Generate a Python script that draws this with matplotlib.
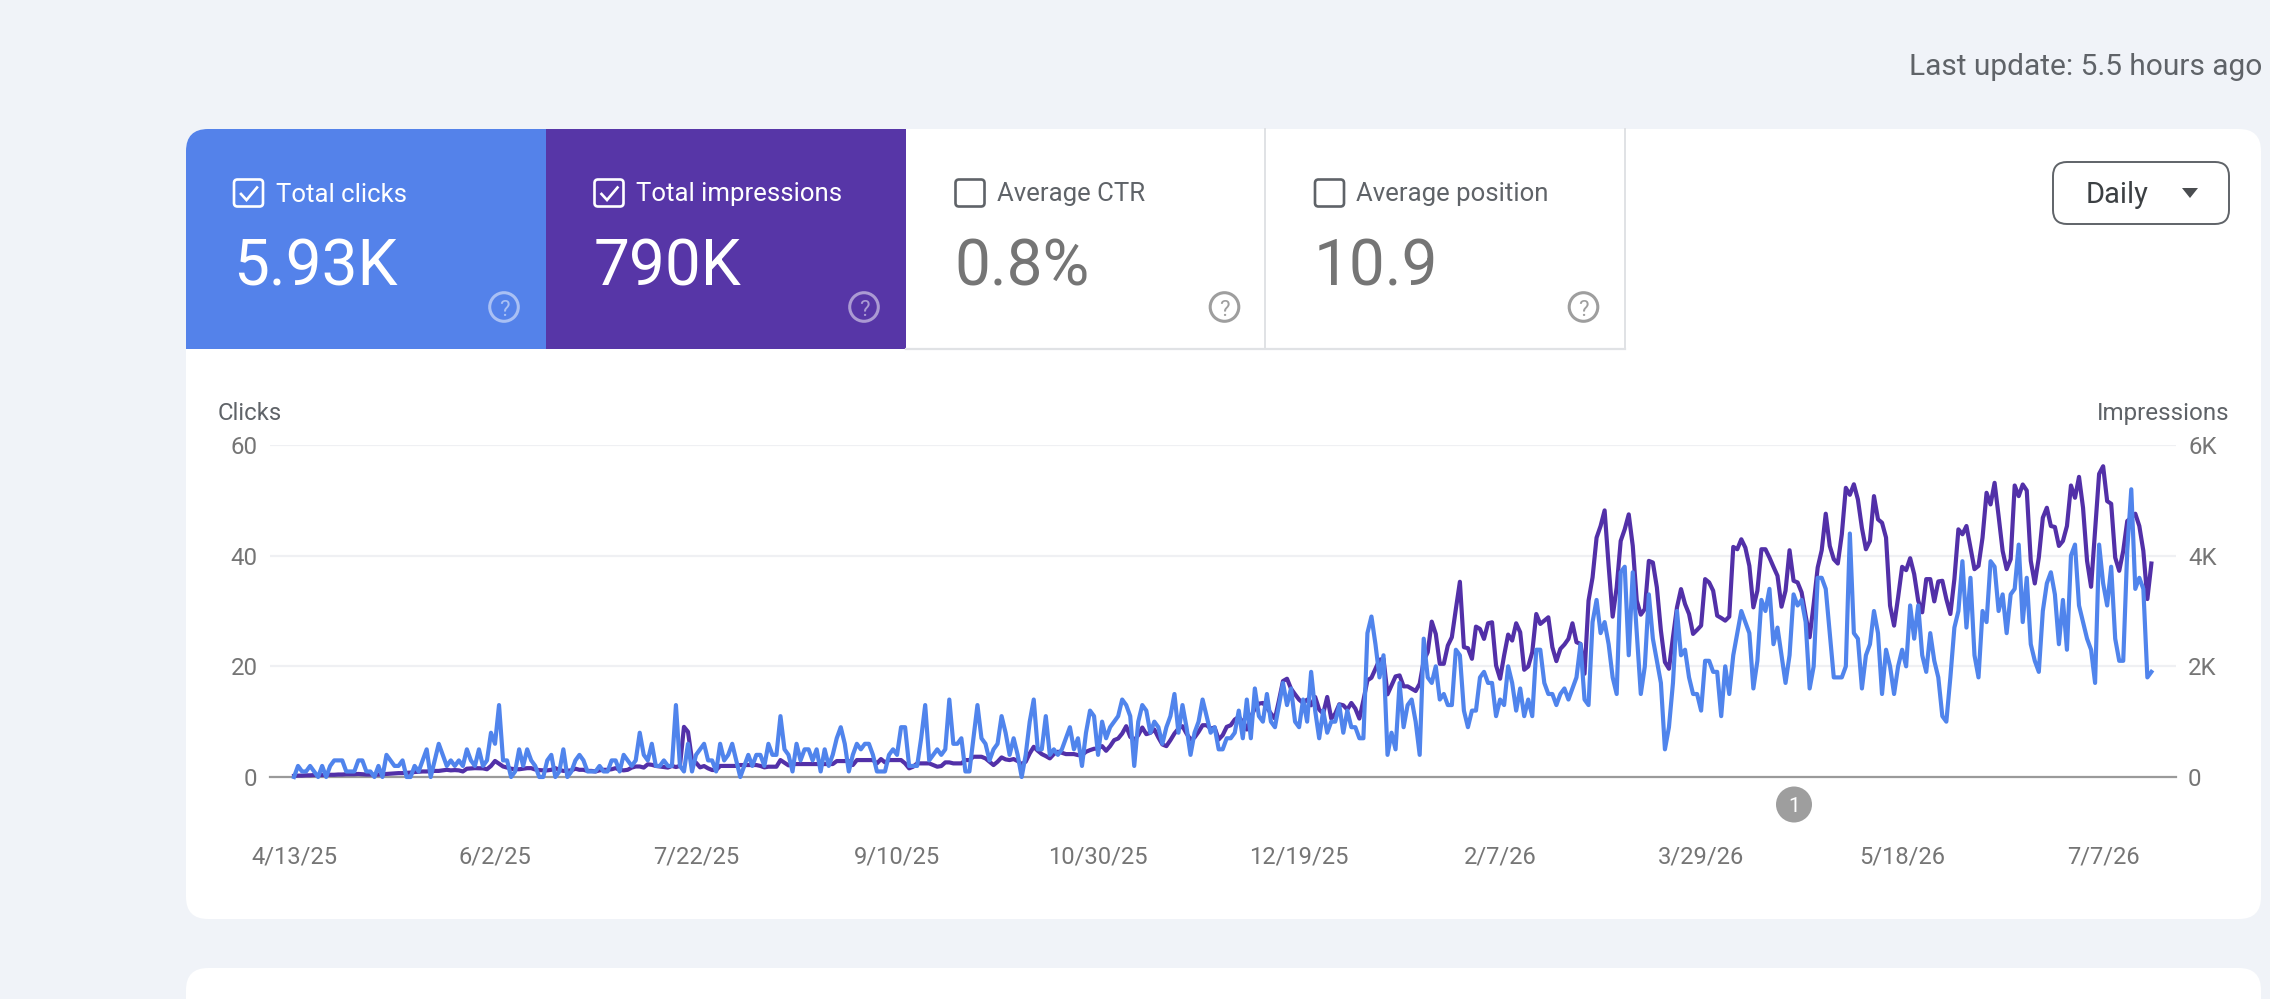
import numpy as np
import matplotlib
matplotlib.use("Agg")
import matplotlib.pyplot as plt
from matplotlib.patches import Circle, FancyBboxPatch, Polygon, Rectangle

plt.rcParams["font.family"] = ["Roboto", "DejaVu Sans"]

W, H = 2270, 999

# daily values, 4/13/25 onwards
clicks = [
    0, 2, 1, 1, 2, 1, 0, 2, 0, 2, 3, 3, 3, 1, 1, 1, 3, 3, 1, 1,
    0, 2, 0, 4, 3, 2, 2, 3, 0, 0, 2, 1, 3, 5, 0, 3, 6, 4, 2, 3,
    2, 3, 2, 5, 3, 2, 5, 2, 3, 8, 6, 13, 3, 3, 0, 1, 5, 2, 5, 3,
    2, 0, 0, 3, 4, 0, 1, 5, 0, 1, 3, 4, 3, 1, 1, 1, 2, 1, 1, 3,
    3, 1, 4, 3, 2, 3, 8, 4, 3, 6, 2, 2, 3, 2, 2, 13, 2, 1, 6, 1,
    4, 5, 6, 3, 3, 1, 6, 3, 4, 6, 3, 0, 2, 4, 2, 4, 4, 2, 6, 4,
    4, 11, 5, 4, 1, 6, 3, 5, 5, 3, 5, 1, 5, 2, 4, 7, 9, 6, 1, 4,
    6, 5, 6, 6, 4, 1, 1, 1, 4, 5, 4, 9, 9, 2, 2, 2, 7, 13, 3, 4,
    5, 4, 5, 14, 6, 6, 7, 1, 1, 7, 13, 7, 6, 3, 5, 6, 11, 8, 4, 7,
    4, 0, 4, 10, 14, 5, 5, 11, 4, 5, 4, 5, 7, 9, 5, 7, 2, 8, 12, 11,
    4, 10, 7, 9, 10, 11, 14, 13, 11, 2, 10, 13, 12, 8, 10, 9, 6, 9, 11, 15,
    8, 13, 9, 4, 8, 10, 14, 11, 8, 9, 5, 5, 7, 7, 8, 12, 7, 14, 7, 16,
    11, 10, 15, 10, 9, 13, 17, 13, 16, 10, 9, 14, 10, 19, 12, 7, 12, 8, 10, 10,
    13, 8, 12, 9, 9, 7, 7, 26, 29, 24, 18, 22, 4, 8, 5, 17, 9, 13, 14, 10,
    4, 25, 18, 17, 20, 14, 15, 13, 13, 23, 22, 12, 9, 12, 12, 18, 19, 17, 17, 11,
    14, 13, 20, 17, 12, 16, 11, 14, 11, 23, 23, 17, 15, 15, 13, 15, 16, 14, 16, 18,
    24, 14, 13, 28, 32, 26, 28, 24, 18, 15, 37, 38, 22, 37, 26, 15, 20, 33, 25, 21,
    17, 5, 9, 17, 30, 22, 23, 18, 15, 15, 12, 21, 21, 19, 19, 11, 20, 15, 22, 26,
    30, 28, 26, 16, 21, 32, 30, 34, 24, 27, 22, 17, 22, 33, 31, 32, 28, 16, 20, 36,
    36, 34, 26, 18, 18, 18, 20, 44, 26, 25, 16, 22, 24, 30, 26, 15, 23, 20, 15, 20,
    23, 20, 31, 25, 31, 22, 19, 26, 21, 18, 11, 10, 18, 27, 30, 39, 27, 36, 22, 18,
    30, 28, 39, 38, 30, 33, 26, 33, 34, 42, 28, 36, 24, 21, 19, 30, 35, 37, 33, 24,
    32, 23, 40, 42, 31, 28, 25, 23, 17, 42, 35, 31, 38, 25, 21, 21, 41, 52, 34, 36,
    34, 18, 19,
]
impressions = [
    20, 25, 25, 30, 30, 35, 35, 35, 40, 40, 40, 45, 45, 50, 50, 50, 55, 50, 45, 45,
    40, 45, 50, 55, 60, 65, 70, 70, 75, 80, 90, 95, 100, 100, 105, 110, 110, 120, 130, 120,
    125, 120, 100, 150, 156, 160, 158, 156, 140, 200, 290, 240, 190, 170, 150, 140, 140, 150, 160, 160,
    135, 125, 120, 120, 130, 160, 130, 110, 115, 120, 150, 130, 130, 110, 110, 100, 120, 130, 130, 140,
    160, 130, 120, 130, 170, 190, 190, 170, 230, 220, 200, 190, 180, 170, 200, 180, 200, 906, 816, 306,
    258, 174, 198, 156, 126, 126, 200, 200, 200, 200, 200, 216, 216, 216, 216, 216, 200, 174, 186, 186,
    186, 306, 258, 210, 234, 234, 234, 234, 234, 234, 234, 234, 234, 234, 234, 288, 288, 288, 288, 216,
    306, 306, 306, 306, 306, 246, 324, 264, 306, 306, 306, 306, 246, 156, 186, 246, 246, 246, 246, 216,
    186, 198, 264, 264, 246, 246, 246, 306, 306, 366, 366, 366, 336, 276, 216, 276, 354, 318, 306, 324,
    288, 234, 276, 426, 546, 474, 414, 378, 336, 414, 456, 438, 414, 414, 414, 396, 396, 456, 486, 510,
    516, 558, 474, 558, 666, 696, 786, 918, 726, 666, 756, 894, 774, 798, 858, 714, 588, 558, 666, 786,
    876, 918, 786, 678, 714, 816, 936, 936, 876, 894, 678, 756, 906, 936, 1038, 1086, 996, 858, 1086, 1236,
    1326, 1338, 1254, 1146, 1056, 1386, 1734, 1776, 1596, 1494, 1398, 1338, 1398, 1296, 1446, 1218, 1146, 1446, 1056, 1146,
    1314, 1296, 1218, 1338, 1236, 1056, 1386, 1746, 1794, 1956, 2118, 2136, 1494, 1656, 1818, 1836, 1638, 1638, 1596, 1554,
    1686, 2100, 2256, 2808, 2586, 2046, 2046, 2376, 2526, 3036, 3528, 2346, 2328, 2136, 2718, 2676, 2496, 2778, 2796, 2016,
    1776, 2196, 2574, 2466, 2778, 2616, 1938, 1998, 2256, 2946, 2766, 2826, 2886, 2346, 2094, 2316, 2394, 2496, 2778, 2436,
    2406, 1866, 3186, 3606, 4326, 4536, 4818, 3816, 2898, 3426, 4266, 4476, 4746, 4176, 3186, 2934, 3036, 3906, 3876, 3426,
    2646, 2076, 1956, 2526, 3066, 3396, 3126, 2946, 2586, 2658, 2736, 3576, 3516, 3366, 2916, 2874, 2826, 2898, 4158, 4116,
    4296, 4146, 3816, 3066, 3366, 4116, 4116, 3966, 3798, 3636, 3078, 3366, 4098, 3546, 3516, 3336, 2916, 2526, 3126, 3786,
    4098, 4758, 4176, 3936, 3858, 4386, 5226, 5100, 5290, 5016, 4500, 4116, 4266, 5076, 4656, 4596, 4326, 3096, 2736, 3246,
    3798, 3738, 3954, 3666, 3186, 2976, 3576, 3576, 3174, 3534, 3546, 3216, 2946, 3576, 4476, 4386, 4536, 4146, 3756, 3816,
    4326, 5136, 4926, 5316, 4716, 4086, 3756, 3936, 5268, 5076, 5286, 5178, 3906, 3498, 3966, 4686, 4866, 4536, 4518, 4176,
    4266, 4536, 5268, 5046, 5424, 4866, 3906, 3438, 4446, 5478, 5616, 4986, 4938, 3966, 3726, 4086, 4626, 4686, 4758, 4536,
    4086, 3216, 3858,
]

date_labels = ["4/13/25", "6/2/25", "7/22/25", "9/10/25", "10/30/25",
               "12/19/25", "2/7/26", "3/29/26", "5/18/26", "7/7/26"]
clicks_ticks = [0, 20, 40, 60]
clicks_labels = ["0", "20", "40", "60"]
impr_ticks = [0, 2000, 4000, 6000]
impr_labels = ["0", "2K", "4K", "6K"]

tile_names = ["Total clicks", "Total impressions", "Average CTR", "Average position"]
tile_values = ["5.93K", "790K", "0.8%", "10.9"]

BG = "#f0f3f8"
BLUE = "#5482ea"
PURPLE = "#5736a7"
LINE_BLUE = "#5084ec"
LINE_PURPLE = "#5230a8"
GREY_TXT = "#757575"
DARK_TXT = "#5f6368"

fig = plt.figure(figsize=(W / 100, H / 100), dpi=100, facecolor=BG)

# page layer in pixel coordinates
page = fig.add_axes([0, 0, 1, 1])
page.set_xlim(0, W)
page.set_ylim(H, 0)
page.axis("off")


def round_box(x0, y0, x1, y1, r, **kw):
    box = FancyBboxPatch((x0 + r, y0 + r), x1 - x0 - 2 * r, y1 - y0 - 2 * r,
                         boxstyle=f"round,pad={r},rounding_size={r}", **kw)
    page.add_patch(box)


round_box(186, 129, 2261, 919, 22, fc="white", ec="none")
round_box(186, 968, 2261, 1040, 22, fc="white", ec="none")

# coloured tiles, first one follows the card's rounded corner
round_box(186, 129, 300, 300, 22, fc=BLUE, ec="none")
page.add_patch(Rectangle((186, 200), 360, 149, fc=BLUE, ec="none"))
page.add_patch(Rectangle((230, 129), 316, 100, fc=BLUE, ec="none"))
page.add_patch(Rectangle((546, 129), 360, 220, fc=PURPLE, ec="none"))

# borders of the unselected tiles
page.plot([1264.5, 1264.5], [129, 348], color="#e0e2e5", lw=1.4)
page.plot([1624.5, 1624.5], [129, 349], color="#e0e2e5", lw=1.4)
page.plot([906, 1625], [348.5, 348.5], color="#e0e2e5", lw=1.6)

tile_x = [234, 594.5, 955.5, 1315]
help_x = [504, 864, 1224.5, 1583.5]
for i, name in enumerate(tile_names):
    sel = i < 2
    x = tile_x[i]
    box_col = "white" if sel else DARK_TXT
    round_box(x, 179.5, x + 29, 206.5, 3.5, fc="none", ec=box_col, lw=1.9)
    if sel:
        page.plot([x + 7, x + 12.5, x + 23], [194, 200, 187.5],
                  color="white", lw=1.9, solid_joinstyle="miter")
    page.text(x + 41.5, 192, name, fontsize=18.5, va="center_baseline", ha="left",
              color="white" if sel else DARK_TXT)
    page.text(x - 1, 285, tile_values[i], fontsize=46, va="baseline", ha="left",
              color="white" if sel else GREY_TXT)
    help_col = (1, 1, 1, 0.5) if sel else "#9e9e9e"
    page.add_patch(Circle((help_x[i], 307), 14.3, fc="none", ec=help_col, lw=2.2))
    page.text(help_x[i], 307.5, "?", fontsize=16, ha="center", va="center_baseline",
              color=help_col)

page.text(2262, 64, "Last update: 5.5 hours ago", fontsize=21.5, ha="right",
          va="center_baseline", color=DARK_TXT)

# period selector
round_box(2053, 162, 2229, 224, 14, fc="white", ec=DARK_TXT, lw=1.4)
page.text(2086, 192, "Daily", fontsize=21, ha="left", va="center_baseline", color="#3c4043")
page.add_patch(Polygon([[2182, 188], [2198, 188], [2190, 198]], fc="#4a4d50", ec="none"))

page.text(217.5, 411, "Clicks", fontsize=17.2, ha="left", va="center_baseline", color=DARK_TXT)
page.text(2229.5, 411, "Impressions", fontsize=17.4, ha="right", va="center_baseline", color=DARK_TXT)

# annotation bubble under the axis
page.add_patch(Circle((1794, 804.5), 18, fc="#9e9e9e", ec="none"))
page.text(1794, 804.5, "1", fontsize=15, color="white", ha="center", va="center_baseline")

# the chart: left axis clicks, right axis impressions
days = np.arange(len(clicks))
left, right, top, bottom = 270, 2175.5, 445, 777
ax = fig.add_axes([left / W, 1 - bottom / H, (right - left) / W, (bottom - top) / H])
ax2 = ax.twinx()
ax.set_zorder(ax2.get_zorder() + 1)
ax.patch.set_visible(False)
ax2.patch.set_visible(False)

ax.set_xlim(-5.97, 468)
ax.set_ylim(0, 60)
ax2.set_ylim(0, 6000)

for v in impr_ticks[1:]:
    ax2.axhline(v, color="#eff0f3", lw=1.6, zorder=1)
ax2.axhline(0, color="#9a9a9a", lw=1.6, zorder=1, clip_on=False)

ax2.plot(days, impressions, color=LINE_PURPLE, lw=3, solid_joinstyle="round",
         clip_on=False, zorder=3)
ax.plot(days, clicks, color=LINE_BLUE, lw=3, solid_joinstyle="round",
        clip_on=False, zorder=3)

for a in (ax, ax2):
    for s in a.spines.values():
        s.set_visible(False)

ax.set_xticks(days[::50])
ax.set_xticklabels(date_labels)
ax.set_yticks(clicks_ticks)
ax.set_yticklabels(clicks_labels)
ax2.set_yticks(impr_ticks)
ax2.set_yticklabels(impr_labels)
ax.tick_params(axis="x", length=0, pad=49, labelsize=17.1, labelcolor=GREY_TXT)
ax.tick_params(axis="y", length=0, pad=9, labelsize=17.3, labelcolor=GREY_TXT)
ax2.tick_params(axis="y", length=0, pad=9, labelsize=17.3, labelcolor=GREY_TXT)
for lab in ax.get_yticklabels() + ax2.get_yticklabels():
    lab.set_va("center_baseline")

fig.savefig("out.png", dpi=100, facecolor=BG)
plt.close(fig)
